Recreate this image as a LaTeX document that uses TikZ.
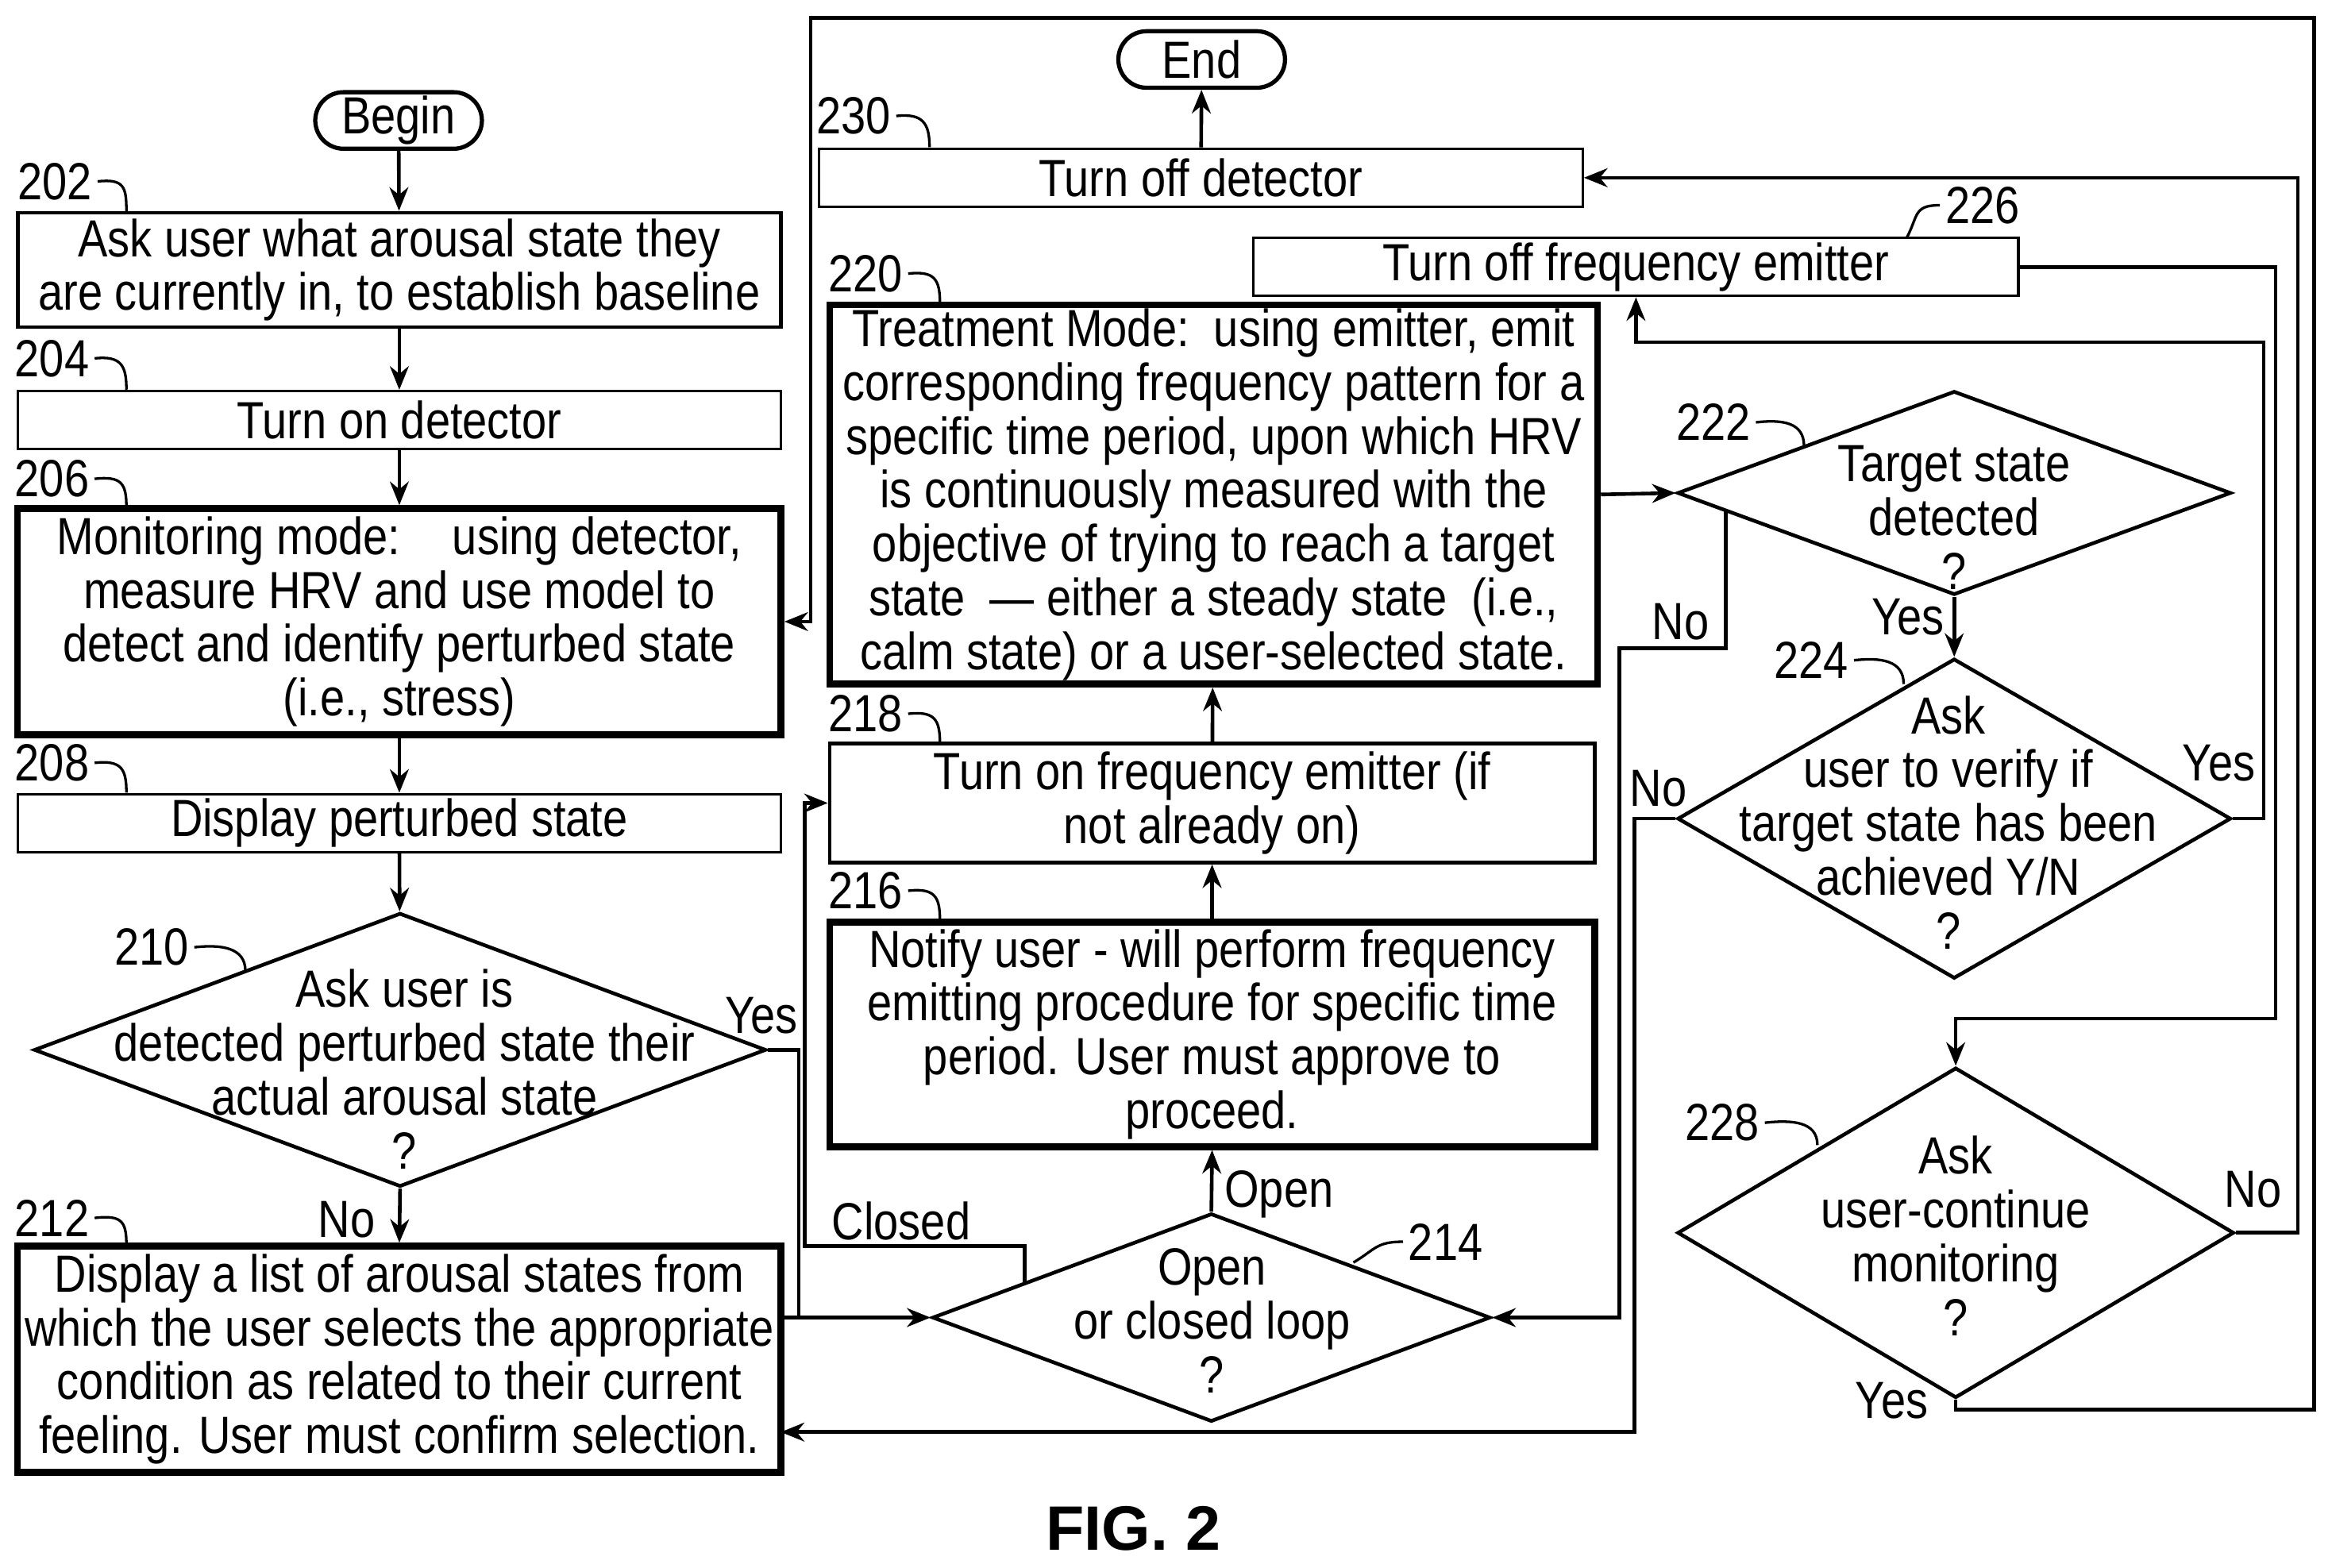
\documentclass[tikz,border=0pt]{standalone}
\usepackage{fontspec}
\setmainfont{Liberation Sans}[FakeStretch=0.85]
\newfontfamily\figfont{Liberation Sans}
\usetikzlibrary{shapes.geometric,arrows.meta,calc}
\begin{document}
\begin{tikzpicture}[x=0.01cm,y=-0.01cm,
  every node/.style={font=\fontsize{10}{10.3}\selectfont,align=center,inner sep=0pt},
  box/.style={draw,line width=0.7pt,rectangle},
  thin/.style={draw,line width=0.5pt,rectangle},
  thick/.style={draw,line width=1.3pt,rectangle},
  term/.style={draw,line width=0.8pt,rounded corners=0.19cm,minimum width=1.12cm,minimum height=0.38cm},
  dia/.style={draw,line width=0.7pt,diamond},
  ln/.style={line width=0.7pt},
  arr/.style={line width=0.7pt,-{Stealth[length=4.5pt,width=3.6pt]}},
  sq/.style={line width=0.5pt}]
\useasboundingbox (0,0) rectangle (1568,1054);
% terminals
\node[term] (begin) at (268,81) {Begin};
\node[term] (end) at (808,40) {End};
% boxes
\node[box,minimum width=5.13cm,minimum height=0.77cm] (b202) at (268.5,181.5) {Ask user what arousal state they\\are currently in, to establish baseline};
\node[thin,minimum width=5.13cm,minimum height=0.39cm] (b204) at (268.5,282.5) {Turn on detector};
\node[thick,minimum width=5.13cm,minimum height=1.52cm] (b206) at (268.5,418) {Monitoring mode:\quad using detector,\\measure HRV and use model to\\detect and identify perturbed state\\(i.e., stress)};
\node[thin,minimum width=5.13cm,minimum height=0.39cm] (b208) at (268.5,553.5) {Display perturbed state};
\node[dia,minimum width=4.92cm,minimum height=1.84cm] (d210) at (269,706) {};
\node (t210) at (272,719) {Ask user is\\detected perturbed state their\\actual arousal state\\?};
\node[thick,minimum width=5.13cm,minimum height=1.52cm] (b212) at (268.5,914) {Display a list of arousal states from\\which the user selects the appropriate\\condition as related to their current\\feeling. User must confirm selection.};
\node[dia,minimum width=3.75cm,minimum height=1.40cm] (d214) at (814.5,886) {};
\node (t214) at (815,888) {Open\\or closed loop\\?};
\node[thick,minimum width=5.14cm,minimum height=1.51cm] (b216) at (815,695.5) {Notify user - will perform frequency\\emitting procedure for specific time\\period. User must approve to\\proceed.};
\node[box,minimum width=5.14cm,minimum height=0.80cm] (b218) at (815,540) {Turn on frequency emitter (if\\not already on)};
\node[thick,minimum width=5.16cm,minimum height=2.55cm] (b220) at (816,332.5) {Treatment Mode:\ \ using emitter, emit\\corresponding frequency pattern for a\\specific time period, upon which HRV\\is continuously measured with the\\objective of trying to reach a target\\state \ — either a steady state\ \ (i.e.,\\calm state) or a user-selected state.};
\node[thin,minimum width=5.13cm,minimum height=0.39cm] (b230) at (807.5,119.5) {Turn off detector};
\node[thin,minimum width=5.14cm,minimum height=0.39cm] (b226) at (1100,179.5) {Turn off frequency emitter};
\node[dia,minimum width=3.72cm,minimum height=1.37cm] (d222) at (1314,331.5) {};
\node (t222) at (1314,348) {Target state\\detected\\?};
\node[dia,minimum width=3.72cm,minimum height=2.15cm] (d224) at (1314,550.5) {};
\node (t224) at (1310,553) {Ask\\user to verify if\\target state has been\\achieved Y/N\\?};
\node[dia,minimum width=3.74cm,minimum height=2.22cm] (d228) at (1315,829) {};
\node (t228) at (1315,831) {Ask\\user-continue\\monitoring\\?};
% reference numbers
\foreach \t/\x/\y/\ex/\ey in {202/37/122/85/142, 204/35/241/85/262, 206/35/322/85/341, 208/35/513/85/533, 212/35/819/85/837, 230/574/78/625/99, 220/582/184/632/204, 218/582/480/632/500, 216/582/599/632/619, 210/102/637/165/653, 222/1152/284/1213/300, 224/1218/444/1280/460, 228/1158/755/1222/770}{
  \node (n\t) at (\x,\y) {\t};
  \draw[sq] (n\t.east) ++(3,0) coordinate (q\t) .. controls ($(q\t)+(18,-2)$) and ($(\ex,\ey)+(0,-16)$) .. (\ex,\ey);
}
\node (n214) at (972,835) {214};
\draw[sq] (n214.west) ++(-3,0) coordinate (q214) .. controls ($(q214)+(-18,0)$) and (925,840) .. (910,849);
\node (n226) at (1333,138) {226};
\draw[sq] (n226.west) ++(-3,0) coordinate (q226) .. controls ($(q226)+(-18,0)$) and (1290,145) .. (1282,160);
% coordinates
\coordinate (c1) at (1556,948);
\coordinate (c3) at (545,12);
\coordinate (c5) at (1545,119.5);
\coordinate (c6) at (1530,685);
\coordinate (c7) at (1522,230);
\coordinate (c8) at (1099,963);
\coordinate (t212) at (525,963);
\coordinate (t212b) at (525,886);
\coordinate (c9) at (1089,436);
\coordinate (c10) at (541,838);
\coordinate (c11) at (537,886);
\coordinate (s222) at ($(d222.west)!0.18!(d222.south)$);
\coordinate (s214) at ($(d214.west)!0.335!(d214.north)$);
% connectors
\draw[arr] (begin) -- (b202);
\draw[arr] (b202) -- (b204);
\draw[arr] (b204) -- (b206);
\draw[arr] (b206) -- (b208);
\draw[arr] (b208) -- (d210);
\draw[arr] (d210.south) -- (b212.north);
\node at (233,820) {No};
\draw[ln] (d210.east) -| (c11);
\node at (512,683) {Yes};
\draw[arr] (t212b) -- (d214.west);
\draw[arr] (d214.north) -- (b216.south);
\node at (860,803) {Open};
\draw[arr] (s214) |- (c10) |- (b218.west);
\node at (606,821) {Closed};
\draw[arr] (b216) -- (b218);
\draw[arr] (b218) -- (b220);
\draw[arr] (b220.east) -- (d222.west);
\draw[arr] (d222.south) -- (d224.north);
\node at (1283,415) {Yes};
\draw[arr] (s222) |- (c9) |- (d214.east);
\node at (1130,418) {No};
\draw[arr] (d224.west) -| (c8) -- (t212);
\node at (1115,530) {No};
\draw[arr] (d224.east) -| (c7) -| (b226.south);
\node at (1492,513) {Yes};
\draw[arr] (b226.east) -| (c6) -| (d228.north);
\draw[arr] (d228.east) -| (c5) -- (b230.east);
\node at (1515,800) {No};
\draw[arr] (d228.south) |- (c1) |- (c3) |- (b206.east);
\node at (1272,942) {Yes};
\draw[arr] (b230) -- (end);
\node[font=\figfont\bfseries\fontsize{12}{12}\selectfont] (fig) at (762,1028) {FIG. 2};
\end{tikzpicture}
\end{document}
